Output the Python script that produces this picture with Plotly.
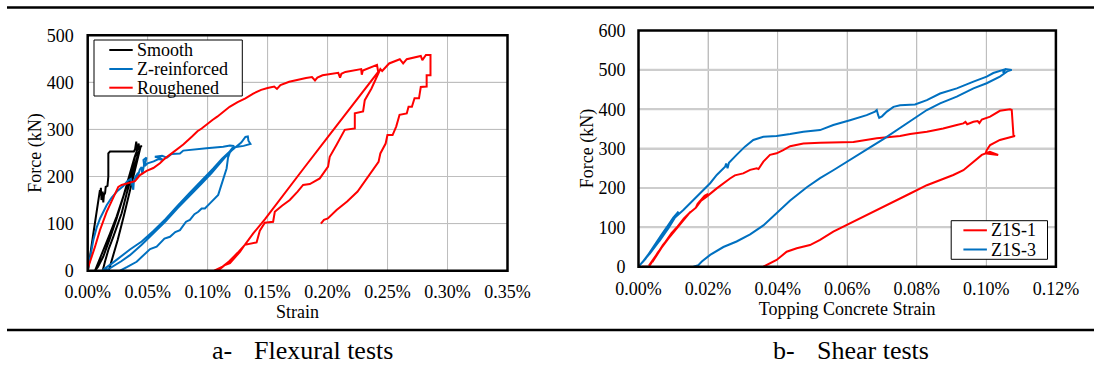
import plotly.graph_objects as go

# ---------------- Data: (a) Flexural tests  (strain in %, force in kN) ----------------
smooth_strain = [0, 0.0005, 0.0047, 0.0088, 0.0102, 0.0105, 0.011, 0.0115, 0.0125, 0.013, 0.0135, 0.0145, 0.015,
                 0.0165, 0.0172, 0.0172, 0.0186, 0.030, 0.0385, 0.0395, 0.0405, 0.041,
                 0.0394, 0.0352, 0.0297, 0.0241, 0.0186, 0.0144, 0.010, 0.0075, 0.0061,
                 0.0085, 0.013, 0.018, 0.024, 0.030, 0.035, 0.039, 0.042, 0.0425, 0.043,
                 0.0422, 0.038, 0.0325, 0.0283, 0.0213, 0.0172, 0.0145, 0.013, 0.0125,
                 0.0175, 0.020, 0.025, 0.030, 0.035, 0.040, 0.044, 0.045]
smooth_force = [0, 5, 79, 150, 171, 160, 176, 150, 168, 145, 160, 165, 178,
                180, 200, 249, 253, 253, 253, 258, 274, 250,
                242, 200, 157, 115, 79, 51, 25, 8, 0,
                8, 30, 65, 110, 160, 205, 240, 262, 270, 255,
                249, 214, 164, 122, 72, 44, 20, 5, 0,
                0, 20, 65, 115, 170, 220, 262, 266]

zrein_strain = [0, 0.002, 0.0047, 0.0075, 0.0105, 0.0158, 0.020, 0.025, 0.0297, 0.033, 0.036, 0.0375, 0.038,
                0.0385, 0.040, 0.042, 0.041, 0.0435, 0.045, 0.0455, 0.047, 0.0465, 0.049, 0.0475, 0.050,
                0.055, 0.059, 0.063, 0.060, 0.056, 0.062, 0.066, 0.070, 0.0769, 0.0797, 0.0991, 0.113,
                0.1186, 0.122,
                0.118, 0.112, 0.1047, 0.095, 0.085, 0.075, 0.065, 0.055, 0.045, 0.0352, 0.028, 0.020,
                0.015, 0.012,
                0.017, 0.022, 0.028, 0.0352, 0.045, 0.055, 0.065, 0.075, 0.085, 0.095, 0.1033, 0.110,
                0.115, 0.120, 0.125, 0.128, 0.1315, 0.1335, 0.134, 0.1357,
                0.130, 0.1225, 0.119, 0.117, 0.1158, 0.113, 0.1102, 0.1088, 0.1019, 0.0977, 0.095,
                0.0922, 0.089, 0.0852, 0.082, 0.0769, 0.073, 0.0686, 0.064, 0.0575, 0.052, 0.0463,
                0.0408, 0.033, 0.027]
zrein_force = [0, 28, 65, 92, 112, 139, 155, 170, 180, 190, 195, 178, 172,
               190, 200, 208, 195, 215, 220, 205, 225, 235, 240, 222, 228,
               232, 237, 235, 240, 242, 244, 240, 248, 249, 255, 260, 263,
               266, 265,
               252, 238, 217, 192, 165, 138, 110, 85, 62, 45, 30, 15,
               6, 0,
               3, 10, 20, 33, 55, 80, 105, 133, 160, 185, 207, 228,
               242, 255, 265, 272, 284, 285, 276, 269,
               265, 262, 255, 240, 217, 193, 171, 161, 143, 132, 132,
               125, 120, 108, 104, 86, 82, 72, 68, 51, 46, 33,
               19, 8, 0]

rough_strain = [0, 0.0005, 0.0061, 0.0102, 0.0158, 0.0213, 0.0255, 0.0283, 0.0352, 0.0394, 0.0436, 0.0491,
                0.0547, 0.0602, 0.0643, 0.0686, 0.074, 0.0797, 0.087, 0.0915, 0.095, 0.100, 0.104, 0.108,
                0.113, 0.1183, 0.125, 0.1315, 0.138, 0.1446, 0.150, 0.1555, 0.1578, 0.1607, 0.168, 0.1753,
                0.182, 0.187, 0.1895, 0.1915, 0.1958, 0.2089, 0.2104, 0.2115, 0.2148, 0.228, 0.2285,
                0.2294, 0.2338, 0.2412, 0.2422,
                0.22, 0.20, 0.18, 0.16, 0.148, 0.138, 0.131, 0.125, 0.118, 0.112, 0.107, 0.1055,
                0.110, 0.1144, 0.1186, 0.1269, 0.131, 0.1373, 0.1408, 0.1435, 0.1477, 0.1546, 0.156,
                0.162, 0.1685, 0.175, 0.1796, 0.1852, 0.1935, 0.2004, 0.2018, 0.2074, 0.2143, 0.2227,
                0.2227, 0.2296, 0.231, 0.2366, 0.2421, 0.244, 0.2455, 0.2513, 0.2602, 0.263, 0.266,
                0.2777, 0.279, 0.282, 0.2858,
                0.2858, 0.2826, 0.2826, 0.2777, 0.2762, 0.2725, 0.2703, 0.2675, 0.266, 0.260, 0.2572,
                0.2542, 0.2499, 0.2484, 0.244, 0.2425, 0.2338, 0.225, 0.2163, 0.2075, 0.2002, 0.197,
                0.1944]
rough_force = [0, 8, 51, 86, 125, 157, 178, 182, 188, 190, 203, 212,
               218, 228, 238, 246, 256, 268, 285, 296, 302, 313, 320, 327,
               338, 348, 358, 366, 376, 384, 388, 391, 386, 394, 401, 406,
               409, 411, 404, 410, 415, 420, 410, 418, 422, 428, 416,
               425, 430, 437, 422,
               350, 283, 217, 150, 110, 79, 55, 38, 20, 8, 1, 0,
               3, 12, 16, 40, 55, 58, 60, 85, 102, 104, 125,
               138, 150, 168, 182, 184, 196, 221, 242, 267, 299, 302,
               334, 338, 362, 387, 419, 428, 424, 440, 449, 440, 449,
               456, 447, 458, 458,
               415, 415, 391, 390, 366, 366, 348, 348, 334, 331, 306,
               288, 288, 270, 249, 231, 200, 168, 147, 129, 111, 108,
               100]

# ---------------- Data: (b) Shear tests ----------------
z1s1_strain = [0.0010, 0.0030, 0.0055, 0.0085, 0.011, 0.0095, 0.0065, 0.0040, 0.0030, 0.0060, 0.0090, 0.0125,
               0.0150, 0.0130, 0.0100, 0.0070, 0.0045, 0.0040, 0.0075, 0.0110, 0.0145, 0.0165, 0.0170,
               0.0190, 0.0200, 0.0175, 0.0165, 0.0180, 0.0196, 0.0225, 0.0244, 0.0263, 0.0277, 0.0301,
               0.0321, 0.034, 0.0345, 0.0359, 0.0378, 0.0397, 0.0416, 0.0436, 0.0474, 0.0522, 0.0618,
               0.0685, 0.0752, 0.0781, 0.0829, 0.0876, 0.0915, 0.0934, 0.0940, 0.0945, 0.0963, 0.0975,
               0.098, 0.0987, 0.1011, 0.1039, 0.1068, 0.1073, 0.1078, 0.1082, 0.1039, 0.1011, 0.1001,
               0.0998, 0.1034, 0.1010, 0.0987, 0.0934, 0.0905, 0.0867, 0.0829, 0.0781, 0.0733, 0.0675,
               0.0599, 0.056, 0.0522, 0.0493, 0.0455, 0.0426, 0.0397, 0.0369, 0.0359]
z1s1_force = [0, 0, 35, 72, 100, 85, 48, 15, 3, 40, 78, 115,
              140, 122, 88, 55, 20, 12, 60, 98, 135, 150, 160,
              180, 185, 165, 150, 168, 178, 199, 212, 224, 232, 237,
              246, 250, 248, 267, 284, 288, 296, 306, 313, 315, 317,
              326, 332, 337, 343, 351, 360, 364, 368, 362, 368, 370,
              365, 374, 381, 396, 400, 398, 334, 332, 322, 309, 296,
              288, 284, 292, 284, 245, 233, 220, 207, 186, 165, 140,
              106, 89, 68, 55, 47, 38, 17, 4, 0]

z1s3_strain = [0, 0.0008, 0.0033, 0.0062, 0.0081, 0.0065, 0.004, 0.002, 0.001, 0.003, 0.0062, 0.0086, 0.010,
               0.0115, 0.0100, 0.0080, 0.006, 0.0045, 0.006, 0.0086, 0.0105, 0.0129, 0.0158, 0.0186,
               0.0206, 0.0225, 0.0249, 0.0252, 0.0256, 0.0260, 0.0263, 0.0282, 0.0306, 0.033, 0.0359,
               0.0397, 0.0436, 0.0474, 0.0522, 0.056, 0.0608, 0.0656, 0.068, 0.0685, 0.0689, 0.0692,
               0.0700, 0.0714, 0.0733, 0.0752, 0.0795, 0.0829, 0.0867, 0.0915, 0.0963, 0.1001, 0.1020,
               0.1039, 0.1049, 0.1049, 0.1055, 0.1073, 0.1062, 0.1039, 0.1001, 0.0963, 0.0915, 0.0867,
               0.0829, 0.08, 0.0752, 0.0704, 0.0675, 0.0632, 0.056, 0.0522, 0.0484, 0.0436, 0.0397,
               0.0359, 0.0321, 0.0282, 0.0244, 0.0206, 0.0182, 0.0172, 0.0158]
z1s3_force = [0, 8, 34, 68, 100, 80, 45, 20, 10, 32, 70, 105, 123,
              140, 125, 100, 72, 52, 65, 98, 125, 144, 170, 195,
              212, 233, 254, 262, 250, 264, 267, 284, 305, 322, 330,
              332, 337, 343, 347, 360, 372, 385, 394, 398, 385, 378,
              382, 394, 406, 410, 412, 423, 440, 453, 470, 483, 492,
              496, 500, 492, 502, 500, 497, 483, 466, 453, 432, 415,
              398, 381, 352, 324, 308, 284, 245, 225, 202, 168, 136,
              105, 82, 64, 50, 30, 13, 4, 0]

left_yticks = [0, 100, 200, 300, 400, 500]
right_yticks = [0, 100, 200, 300, 400, 500, 600]
left_xticks = [0, 0.05, 0.10, 0.15, 0.20, 0.25, 0.30, 0.35]
left_xticklabels = ["0.00%", "0.05%", "0.10%", "0.15%", "0.20%", "0.25%", "0.30%", "0.35%"]
right_xticks = [0, 0.02, 0.04, 0.06, 0.08, 0.10, 0.12]
right_xticklabels = ["0.00%", "0.02%", "0.04%", "0.06%", "0.08%", "0.10%", "0.12%"]

left_names = ["Smooth", "Z-reinforced", "Roughened"]
right_names = ["Z1S-1", "Z1S-3"]

SERIF = "Liberation Serif"
BLUE = "rgb(0,112,192)"
RED = "rgb(255,0,0)"
BLACK = "rgb(0,0,0)"
GRID = "rgb(190,190,190)"
W, H = 1094, 370


def px_x(p):
    return p / W


def px_y(p):
    return (H - p) / H


def f(size):
    return dict(family=SERIF, size=size, color="black")


fig = go.Figure()
fig.add_trace(go.Scatter(x=smooth_strain, y=smooth_force, mode="lines", name=left_names[0],
                         line=dict(color=BLACK, width=2), xaxis="x", yaxis="y"))
fig.add_trace(go.Scatter(x=zrein_strain, y=zrein_force, mode="lines", name=left_names[1],
                         line=dict(color=BLUE, width=2), xaxis="x", yaxis="y"))
fig.add_trace(go.Scatter(x=rough_strain, y=rough_force, mode="lines", name=left_names[2],
                         line=dict(color=RED, width=2), xaxis="x", yaxis="y"))
fig.add_trace(go.Scatter(x=z1s1_strain, y=z1s1_force, mode="lines", name=right_names[0],
                         line=dict(color=RED, width=2), xaxis="x2", yaxis="y2"))
fig.add_trace(go.Scatter(x=z1s3_strain, y=z1s3_force, mode="lines", name=right_names[1],
                         line=dict(color=BLUE, width=2), xaxis="x2", yaxis="y2"))

fig.update_layout(
    template="none",
    width=W, height=H,
    margin=dict(l=0, r=0, t=0, b=0, autoexpand=False),
    paper_bgcolor="white", plot_bgcolor="white",
    font=f(18),
    showlegend=False,
    xaxis=dict(domain=[px_x(87.7), px_x(507.5)], anchor="y", range=[0, 0.35],
               tickvals=left_xticks, ticktext=left_xticklabels, ticklabelstandoff=8, tickfont=f(18),
               showgrid=True, gridcolor=GRID, gridwidth=1, zeroline=False, ticks="",
               showline=False, title=dict(text="Strain", standoff=1, font=f(18))),
    yaxis=dict(domain=[px_y(270.7), px_y(35.2)], anchor="x", range=[0, 500],
               tickvals=left_yticks, ticklabelstandoff=13, tickfont=f(18),
               showgrid=True, gridcolor=GRID, gridwidth=1, zeroline=False, ticks="",
               showline=False, title=dict(text="Force (kN)", standoff=0, font=f(18))),
    xaxis2=dict(domain=[px_x(638.5), px_x(1055.9)], anchor="y2", range=[0, 0.12],
                tickvals=right_xticks, ticktext=right_xticklabels, ticklabelstandoff=9, tickfont=f(18),
                showgrid=True, gridcolor=GRID, gridwidth=1, zeroline=False, ticks="",
                showline=False, title=dict(text="Topping Concrete Strain", standoff=1, font=f(18))),
    yaxis2=dict(domain=[px_y(266.7), px_y(30.5)], anchor="x2", range=[0, 600],
                tickvals=right_yticks, ticklabelstandoff=12, tickfont=f(18),
                showgrid=True, gridcolor="rgb(205,205,205)", gridwidth=2, zeroline=False, ticks="",
                showline=False, title=dict(text="Force (kN)", standoff=0, font=f(18))),
)

# gridlines behind the data, placed through the axes' own scales
for xa, ya, xt, yt, vcol, vw, hcol, hw in (
        ("x", "y", left_xticks, left_yticks, GRID, 1, GRID, 1),
        ("x2", "y2", right_xticks, right_yticks, GRID, 1, "rgb(205,205,205)", 2)):
    for v in xt[1:-1]:
        fig.add_shape(type="line", xref=xa, yref=ya + " domain", x0=v, x1=v, y0=0, y1=1,
                      line=dict(color=vcol, width=vw), layer="below")
    for v in yt[1:-1]:
        fig.add_shape(type="line", xref=xa + " domain", yref=ya, x0=0, x1=1, y0=v, y1=v,
                      line=dict(color=hcol, width=hw), layer="below")

# plot-area frames
for x0, x1, y0, y1 in ((87.7, 507.5, 270.7, 35.2), (638.5, 1055.9, 266.7, 30.5)):
    fig.add_shape(type="rect", xref="paper", yref="paper", x0=px_x(x0), x1=px_x(x1), y0=px_y(y0), y1=px_y(y1),
                  line=dict(color="black", width=2.5))

# legends (boxed, as in the original figure)
legends = (
    ((94, 242.3, 40, 96), 109.3, 132.7, 135, [(left_names[0], BLACK, 50), (left_names[1], BLUE, 69),
                                              (left_names[2], RED, 87.7)]),
    ((951.2, 1047.5, 220.7, 259.3), 963.4, 986.9, 988.5, [(right_names[0], RED, 230.3),
                                                         (right_names[1], BLUE, 249.5)]),
)
for (bx0, bx1, by0, by1), lx0, lx1, tx, rows in legends:
    fig.add_shape(type="rect", xref="paper", yref="paper", x0=px_x(bx0), x1=px_x(bx1),
                  y0=px_y(by1), y1=px_y(by0), line=dict(color="black", width=1), fillcolor="white")
    for name, color, yy in rows:
        fig.add_shape(type="line", xref="paper", yref="paper", x0=px_x(lx0), x1=px_x(lx1),
                      y0=px_y(yy), y1=px_y(yy), line=dict(color=color, width=2))
        fig.add_annotation(text=name, x=px_x(tx), y=px_y(yy), xref="paper", yref="paper", xanchor="left",
                           yanchor="middle", showarrow=False, font=f(18))

# captions
for text, ax in (("a-", 209.5), ("Flexural tests", 252.2), ("b-", 771), ("Shear tests", 815.4)):
    fig.add_annotation(text=text, x=px_x(ax), y=px_y(350), xref="paper", yref="paper",
                       xanchor="left", yanchor="middle", showarrow=False, font=f(26))

for yy in (7.5, 330):
    fig.add_shape(type="line", xref="paper", yref="paper", x0=px_x(7), x1=1.0, y0=px_y(yy), y1=px_y(yy),
                  line=dict(color="black", width=2.5))

fig.write_html("out.html")
